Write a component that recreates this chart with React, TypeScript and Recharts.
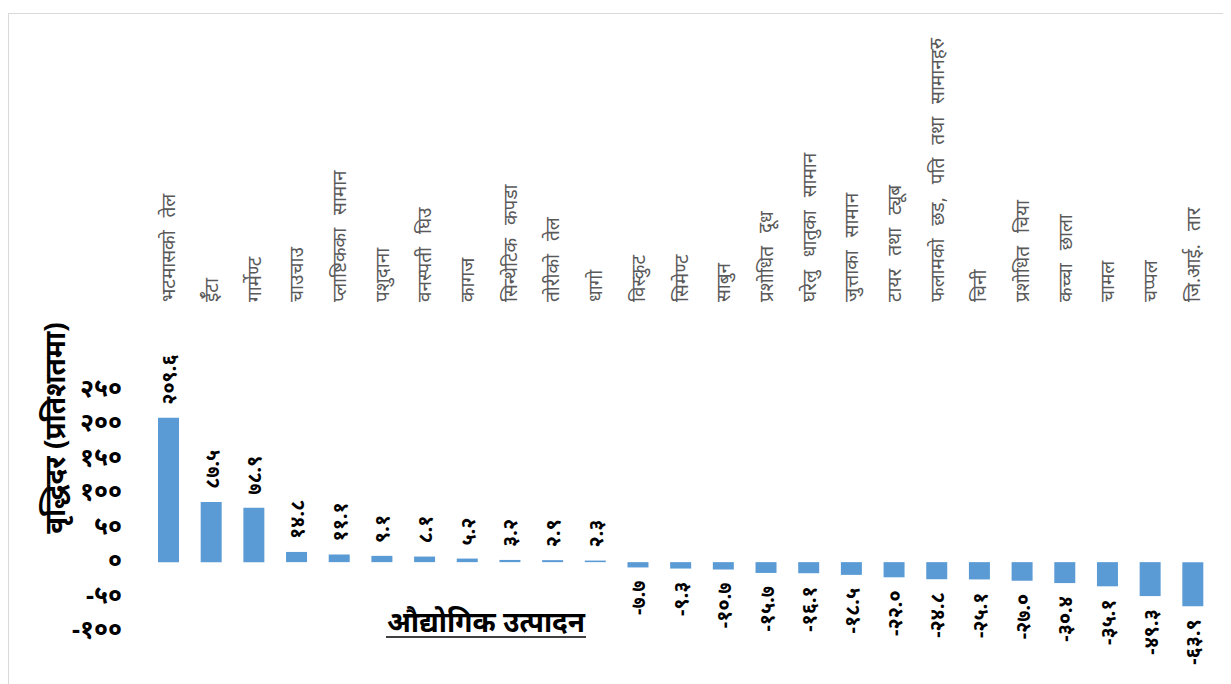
import React from 'react';
import { BarChart, Bar, XAxis, YAxis, LabelList, Label } from 'recharts';

const categories = [
  'भटमासको तेल',
  'ईँटा',
  'गार्मेण्ट',
  'चाउचाउ',
  'प्लाष्टिकका सामान',
  'पशुदाना',
  'वनस्पती घिउ',
  'कागज',
  'सिन्थेटिक कपडा',
  'तोरीको तेल',
  'धागो',
  'विस्कुट',
  'सिमेण्ट',
  'साबुन',
  'प्रशोधित दूध',
  'घरेलु धातुका सामान',
  'जुत्ताका सामान',
  'टायर तथा ट्यूब',
  'फलामको छड, पति तथा सामानहरु',
  'चिनी',
  'प्रशोधित चिया',
  'कच्चा छाला',
  'चामल',
  'चप्पल',
  'जि.आई. तार',
];

const growth = [
  209.6, 87.5, 78.9, 14.8, 11.1, 9.1, 8.1, 5.2, 3.2, 2.9, 2.3,
  -7.7, -9.3, -10.7, -15.7, -16.1, -18.5, -22.0, -24.8, -25.1, -27.0, -30.4, -35.1, -49.3, -63.9,
];

const yTicks = [-100, -50, 0, 50, 100, 150, 200, 250];

const yTitle = 'वृद्धिदर (प्रतिशतमा)';
const xTitle = 'औद्योगिक उत्पादन';

const FONT = "'Noto Sans', 'DejaVu Sans', sans-serif";
const NP_DIGITS = '०१२३४५६७८९';

const toNepali = (s: string) => s.replace(/[0-9]/g, (d) => NP_DIGITS[Number(d)]);

const data = categories.map((name, i) => ({ name, value: growth[i] }));

const CategoryTick = (props: any) => {
  const { x, payload } = props;
  return (
    <text
      x={x}
      y={288}
      transform={`rotate(-90, ${x}, 288)`}
      textAnchor="start"
      dominantBaseline="central"
      fill="#595959"
      fontSize={19}
      wordSpacing={8}
      fontFamily={FONT}
    >
      {payload.value}
    </text>
  );
};

const ValueTick = (props: any) => {
  const { y, payload } = props;
  return (
    <text
      x={113}
      y={y}
      dy={-3}
      textAnchor="end"
      dominantBaseline="central"
      fill="#000"
      fontSize={25}
      fontWeight="bold"
      fontFamily={FONT}
    >
      {toNepali(String(payload.value))}
    </text>
  );
};

const ValueLabel = (props: any) => {
  const { x, y, width, height, value } = props;
  const cx = x + width / 2;
  const top = Math.min(y, y + height);
  const bottom = Math.max(y, y + height);
  const pos = value >= 0;
  const ay = pos ? top - 13 : bottom + 13;
  return (
    <text
      x={cx}
      y={ay}
      transform={`rotate(-90, ${cx}, ${ay})`}
      textAnchor={pos ? 'start' : 'end'}
      dominantBaseline="central"
      fill="#000"
      fontSize={20}
      fontWeight="bold"
      fontFamily={FONT}
    >
      {toNepali(Number(value).toFixed(1))}
    </text>
  );
};

const YTitle = () => (
  <text
    x={45}
    y={414}
    transform="rotate(-90, 45, 414)"
    textAnchor="middle"
    dominantBaseline="central"
    fill="#000"
    fontSize={28}
    fontWeight="bold"
    fontFamily={FONT}
  >
    {yTitle}
  </text>
);

const XTitle = () => (
  <g>
    <text
      x={477}
      y={607}
      textAnchor="middle"
      dominantBaseline="central"
      fill="#000"
      fontSize={28}
      fontWeight="bold"
      fontFamily={FONT}
    >
      {xTitle}
    </text>
    <line x1={377} x2={577} y1={623} y2={623} stroke="#000" strokeWidth={1.5} />
  </g>
);

export default function App() {
  return (
    <div
      style={{
        marginTop: 5,
        width: 1220,
        height: 676,
        border: '1px solid #d9d9d9',
        boxSizing: 'border-box',
        background: '#fff',
      }}
    >
      <BarChart
        width={1218}
        height={668}
        data={data}
        margin={{ top: 0, right: 13, bottom: 51, left: 0 }}
      >
        <XAxis
          dataKey="name"
          orientation="top"
          height={376}
          axisLine={false}
          tickLine={false}
          interval={0}
          tick={<CategoryTick />}
        >
          <Label content={<XTitle />} />
        </XAxis>
        <YAxis
          width={138}
          domain={[-100, 250]}
          ticks={yTicks}
          axisLine={false}
          tickLine={false}
          tick={<ValueTick />}
        >
          <Label content={<YTitle />} />
        </YAxis>
        <Bar dataKey="value" fill="#5b9bd5" barSize={21} isAnimationActive={false}>
          <LabelList dataKey="value" content={<ValueLabel />} />
        </Bar>
      </BarChart>
    </div>
  );
}
